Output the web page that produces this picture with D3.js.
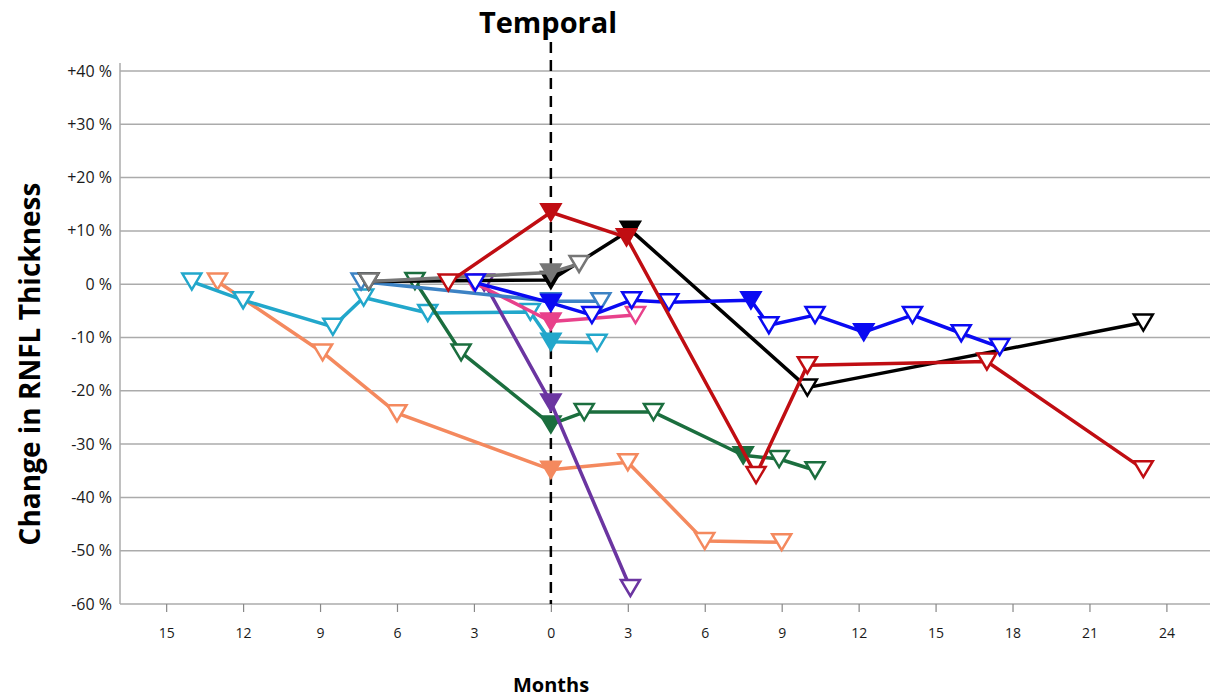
<!DOCTYPE html>
<html>
<head>
<meta charset="utf-8">
<script src="https://cdn.jsdelivr.net/npm/d3@7"></script>
<style>
  body { margin: 0; background: #fff; }
  text { font-family: "Open Sans", sans-serif; }
</style>
</head>
<body>
<script>
// data, months relative to event (negative = before), % change
var xTicks = [-15, -12, -9, -6, -3, 0, 3, 6, 9, 12, 15, 18, 21, 24];
var yTicks = [40, 30, 20, 10, 0, -10, -20, -30, -40, -50, -60];

var orangeMonths = [-13.0, -8.9, -6.0, 0, 3.0, 6.0, 9.0];
var orangeValues = [0.5, -12.8, -24.2, -34.8, -33.4, -48.2, -48.4];
var orangeFilled = [0, 0, 0, 1, 0, 0, 0];

var cyanMonths = [-14.0, -12.0, -8.5, -7.3, -4.8, -0.8, 0, 1.8];
var cyanValues = [0.5, -3.0, -8.0, -2.5, -5.4, -5.2, -10.8, -11.0];
var cyanFilled = [0, 0, 0, 0, 0, 0, 1, 0];

var greenMonths = [-5.3, -3.5, 0, 1.3, 4.0, 7.5, 8.9, 10.3];
var greenValues = [0.6, -12.8, -26.3, -24.0, -24.0, -32.1, -32.8, -34.9];
var greenFilled = [0, 0, 1, 0, 0, 1, 0, 0];

var purpleMonths = [-2.6, 0, 3.1];
var purpleValues = [0.3, -22.2, -57.0];
var purpleFilled = [0, 1, 0];

var pinkMonths = [-3.0, 0, 3.3];
var pinkValues = [0.3, -7.0, -5.8];
var pinkFilled = [0, 1, 0];

var steelMonths = [-7.4, 0, 1.95];
var steelValues = [0.5, -3.2, -3.2];
var steelFilled = [0, 1, 0];

var blackMonths = [-7.1, 0, 3.1, 10.0, 23.1];
var blackValues = [0.5, 0.8, 10.2, -19.4, -7.2];
var blackFilled = [0, 1, 1, 0, 0];

var grayMonths = [-7.1, 0, 1.1];
var grayValues = [0.5, 2.2, 3.8];
var grayFilled = [0, 1, 0];

var blueMonths = [-2.95, 0, 1.6, 3.15, 4.6, 7.8, 8.5, 10.3, 12.2, 14.1, 16.0, 17.5];
var blueValues = [0.3, -3.5, -5.8, -3.0, -3.4, -3.0, -7.7, -5.8, -9.0, -5.8, -9.2, -11.8];
var blueFilled = [0, 1, 0, 0, 0, 1, 0, 0, 1, 0, 0, 0];

var redMonths = [-4.0, 0, 2.95, 8.0, 10.0, 17.0, 23.1];
var redValues = [0.3, 13.5, 8.8, -35.8, -15.2, -14.5, -34.7];
var redFilled = [0, 1, 1, 0, 0, 0, 0];

var series = [
  {color: "#f4895e", m: orangeMonths, v: orangeValues, f: orangeFilled},
  {color: "#22a7cb", m: cyanMonths, v: cyanValues, f: cyanFilled},
  {color: "#1b6e3e", m: greenMonths, v: greenValues, f: greenFilled},
  {color: "#6b35a1", m: purpleMonths, v: purpleValues, f: purpleFilled},
  {color: "#e8418b", m: pinkMonths, v: pinkValues, f: pinkFilled},
  {color: "#3c82c4", m: steelMonths, v: steelValues, f: steelFilled},
  {color: "#000000", m: blackMonths, v: blackValues, f: blackFilled},
  {color: "#767676", m: grayMonths, v: grayValues, f: grayFilled},
  {color: "#0a0af2", m: blueMonths, v: blueValues, f: blueFilled},
  {color: "#c00d12", m: redMonths, v: redValues, f: redFilled}
];

var w = 1213, h = 700;
var plotLeft = 120, plotRight = 1210, plotTop = 71, plotBottom = 604;

var svg = d3.select("body").append("svg")
    .attr("width", w)
    .attr("height", h);

var xScale = d3.scaleLinear().domain([-16.8, 25.7]).range([plotLeft, plotRight]);
var yScale = d3.scaleLinear().domain([-60, 40]).range([plotBottom, plotTop]);

// gridlines
svg.append("g")
   .selectAll("line")
   .data(yTicks)
   .enter()
   .append("line")
   .attr("x1", plotLeft)
   .attr("x2", plotRight)
   .attr("y1", function(d) { return yScale(d); })
   .attr("y2", function(d) { return yScale(d); })
   .attr("stroke", "#ababab")
   .attr("stroke-width", 1.5);

// left axis line
svg.append("line")
   .attr("x1", plotLeft).attr("x2", plotLeft)
   .attr("y1", plotTop - 8).attr("y2", plotBottom)
   .attr("stroke", "#ababab")
   .attr("stroke-width", 1.5);

// y labels
svg.append("g")
   .selectAll("text")
   .data(yTicks)
   .enter()
   .append("text")
   .attr("x", plotLeft - 8)
   .attr("y", function(d) { return yScale(d) + 5.5; })
   .attr("text-anchor", "end")
   .attr("font-size", "16px")
   .attr("fill", "#1a1a1a")
   .text(function(d) { return (d > 0 ? "+" : "") + d + " %"; });

// x axis
var xAxis = d3.axisBottom(xScale)
    .tickValues(xTicks)
    .tickSize(8)
    .tickFormat(function(d) { return Math.abs(d); });

var gx = svg.append("g")
   .attr("transform", "translate(0," + plotBottom + ")")
   .call(xAxis);
gx.select(".domain").remove();
gx.selectAll(".tick line").attr("stroke", "#888").attr("stroke-width", 1.2);
gx.selectAll(".tick text")
  .attr("y", 24)
  .attr("font-size", "14px")
  .attr("font-family", "'Open Sans', sans-serif")
  .attr("fill", "#1a1a1a");

// dashed zero line
svg.append("line")
   .attr("x1", xScale(0)).attr("x2", xScale(0))
   .attr("y1", 42).attr("y2", plotBottom)
   .attr("stroke", "#000")
   .attr("stroke-width", 2.5)
   .attr("stroke-dasharray", "11,7");

// series
var line = d3.line()
    .x(function(d) { return xScale(d[0]); })
    .y(function(d) { return yScale(d[1]); });

var tri = "M-9.5,-8L9.5,-8L0,8Z";

series.forEach(function(s) {
    var pts = s.m.map(function(m, i) { return [m, s.v[i], s.f[i]]; });
    var g = svg.append("g");
    g.append("path")
     .datum(pts)
     .attr("d", line)
     .attr("fill", "none")
     .attr("stroke", s.color)
     .attr("stroke-width", 3.5)
     .attr("stroke-linejoin", "round");
    g.selectAll("path.mk")
     .data(pts)
     .enter()
     .append("path")
     .attr("class", "mk")
     .attr("d", tri)
     .attr("transform", function(d) { return "translate(" + xScale(d[0]) + "," + yScale(d[1]) + ")"; })
     .attr("fill", function(d) { return d[2] ? s.color : "#fff"; })
     .attr("stroke", s.color)
     .attr("stroke-width", 2.5)
     .attr("stroke-linejoin", "miter");
});

// titles
svg.append("text")
   .attr("x", 548).attr("y", 33)
   .attr("text-anchor", "middle")
   .attr("font-size", "29px")
   .attr("font-weight", "bold")
   .text("Temporal");

svg.append("text")
   .attr("x", 551).attr("y", 692)
   .attr("text-anchor", "middle")
   .attr("font-size", "20px")
   .attr("font-weight", "bold")
   .text("Months");

svg.append("text")
   .attr("transform", "translate(40,364) rotate(-90)")
   .attr("text-anchor", "middle")
   .attr("font-size", "28px")
   .attr("font-weight", "bold")
   .text("Change in RNFL Thickness");
</script>
</body>
</html>
